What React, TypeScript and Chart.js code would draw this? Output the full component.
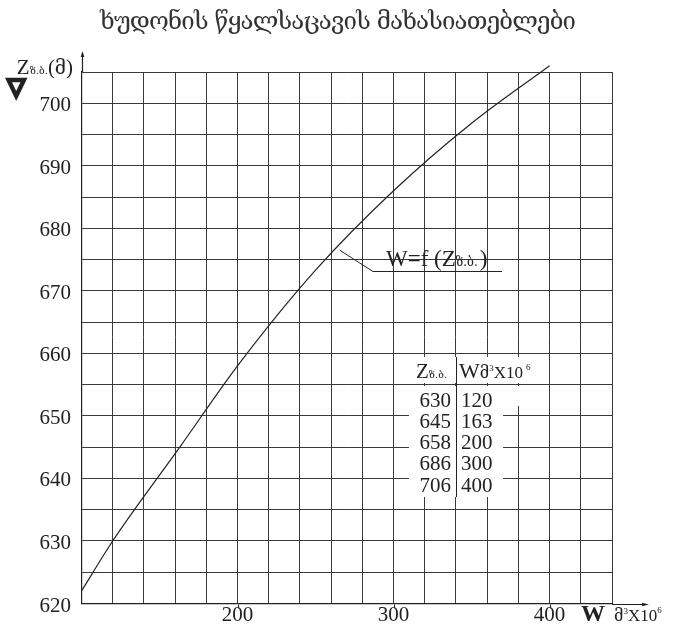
import React, { useEffect, useRef } from 'react';
import { Chart, registerables } from 'chart.js';
Chart.register(...registerables);

const titleText = 'ხუდონის წყალსაცავის მახასიათებლები';
const curveW = [100, 120, 163, 200, 250, 300, 350, 400];
const curveZ = [622, 630, 645, 658, 673.3, 686, 696.8, 706];
const tableZ = [630, 645, 658, 686, 706];
const tableW = [120, 163, 200, 300, 400];
const xTickLabels = [200, 300, 400];
const yTickLabels = [620, 630, 640, 650, 660, 670, 680, 690, 700];
const xMin = 100, xMax = 440, xStep = 20;
const yMin = 620, yMax = 705, yStep = 5;

const SERIF = '"Liberation Serif", "Times New Roman", serif';
const GEO = '"DejaVu Serif", "DejaVu Sans", serif';
const INK = '#222';

type Part = { t: string; f: string; dy?: number; gap?: number };

function drawParts(ctx: CanvasRenderingContext2D, parts: Part[], x: number, y: number, align: 'left' | 'right' = 'left') {
  ctx.save();
  ctx.textBaseline = 'alphabetic';
  ctx.textAlign = 'left';
  let total = 0;
  for (const p of parts) { ctx.font = p.f; total += ctx.measureText(p.t).width + (p.gap || 0); }
  let cx = align === 'right' ? x - total : x;
  for (const p of parts) {
    ctx.font = p.f;
    ctx.fillText(p.t, cx, y + (p.dy || 0));
    cx += ctx.measureText(p.t).width + (p.gap || 0);
  }
  ctx.restore();
  return total;
}

const decorPlugin = {
  id: 'decor',
  afterDraw(chart: any) {
    const ctx: CanvasRenderingContext2D = chart.ctx;
    const xs = chart.scales.x;
    const ys = chart.scales.y;
    const a = chart.chartArea;
    ctx.save();
    ctx.fillStyle = INK;
    ctx.strokeStyle = INK;

    // Title with letter spacing
    ctx.font = `24px ${GEO}`;
    const n = Array.from(titleText).length;
    const w0 = ctx.measureText(titleText).width;
    const ls = (476 - w0) / (n - 1);
    (ctx as any).letterSpacing = `${ls}px`;
    ctx.fillStyle = '#333';
    ctx.textAlign = 'left';
    ctx.textBaseline = 'alphabetic';
    ctx.fillText(titleText, 100, 29);
    (ctx as any).letterSpacing = '0px';
    ctx.fillStyle = INK;

    // Axis arrows
    const x0 = Math.round(a.left) + 0.5;
    const y0 = Math.round(a.bottom) + 0.5;
    ctx.lineWidth = 1.2;
    ctx.beginPath();
    ctx.moveTo(x0, a.top);
    ctx.lineTo(x0, 54);
    ctx.moveTo(a.right, y0);
    ctx.lineTo(645, y0);
    ctx.stroke();
    ctx.beginPath();
    ctx.moveTo(x0, 51); ctx.lineTo(x0 - 1.8, 57); ctx.lineTo(x0 + 1.8, 57); ctx.closePath();
    ctx.fill();
    ctx.beginPath();
    ctx.moveTo(649, y0); ctx.lineTo(642, y0 - 1.8); ctx.lineTo(642, y0 + 1.8); ctx.closePath();
    ctx.fill();

    // Small ticks under x axis
    ctx.lineWidth = 1;
    for (const v of xTickLabels) {
      const px = Math.round(xs.getPixelForValue(v)) + 0.5;
      ctx.beginPath(); ctx.moveTo(px, y0); ctx.lineTo(px, y0 + 4); ctx.stroke();
    }

    // Tick labels
    ctx.font = `21px ${SERIF}`;
    ctx.textBaseline = 'alphabetic';
    ctx.textAlign = 'center';
    for (const v of xTickLabels) {
      ctx.fillText(String(v), xs.getPixelForValue(v), 621);
    }
    ctx.textAlign = 'right';
    for (const v of yTickLabels) {
      ctx.fillText(String(v), 71, ys.getPixelForValue(v) + 8);
    }

    // X axis unit label
    drawParts(ctx, [
      { t: 'W', f: `bold 24px ${SERIF}` },
    ], 581, 621);
    drawParts(ctx, [
      { t: 'მ', f: `16px ${GEO}` },
      { t: '3', f: `9px ${SERIF}`, dy: -7 },
      { t: 'X', f: `17px ${SERIF}` },
      { t: '10', f: `17px ${SERIF}` },
      { t: '6', f: `9px ${SERIF}`, dy: -8 },
    ], 614, 621);

    // Y axis label
    drawParts(ctx, [
      { t: 'Z', f: `21px ${SERIF}` },
      { t: 'ზ.ბ.', f: `10px ${GEO}`, dy: 0 },
      { t: '(', f: `21px ${SERIF}` },
      { t: 'მ', f: `19px ${GEO}` },
      { t: ')', f: `21px ${SERIF}` },
    ], 73, 74, 'right');

    // Nabla symbol
    ctx.save();
    ctx.lineWidth = 4.4;
    ctx.lineJoin = 'miter';
    ctx.beginPath();
    ctx.moveTo(8.5, 80); ctx.lineTo(24, 80); ctx.lineTo(16.2, 96); ctx.closePath();
    ctx.stroke();
    ctx.restore();

    // Annotation leader
    const lx = xs.getPixelForValue(265.5);
    const ly = ys.getPixelForValue(676.5);
    ctx.lineWidth = 1;
    ctx.beginPath();
    ctx.moveTo(lx, ly);
    ctx.lineTo(373, 271.5);
    ctx.lineTo(502, 271.5);
    ctx.stroke();
    drawParts(ctx, [
      { t: 'W=f (Z', f: `23px ${SERIF}` },
      { t: 'ზ.ბ.', f: `12px ${GEO}`, gap: 2 },
      { t: ')', f: `23px ${SERIF}` },
    ], 386, 266);

    // Table
    ctx.fillStyle = '#fff';
    ctx.fillRect(409, 357, 138, 26);
    ctx.fillRect(409, 386, 138, 20);
    ctx.fillRect(409, 406, 94, 91);
    ctx.fillStyle = INK;
    const sepX = Math.round(xs.getPixelForValue(340)) + 0.5;
    ctx.lineWidth = 1;
    ctx.beginPath();
    ctx.moveTo(sepX, 357); ctx.lineTo(sepX, 497);
    ctx.stroke();
    drawParts(ctx, [
      { t: 'Z', f: `21px ${SERIF}` },
      { t: 'ზ.ბ.', f: `10px ${GEO}` },
    ], 416, 378);
    drawParts(ctx, [
      { t: 'W', f: `22px ${SERIF}` },
      { t: 'მ', f: `16px ${GEO}` },
      { t: '3', f: `9px ${SERIF}`, dy: -7 },
      { t: 'X', f: `17px ${SERIF}` },
      { t: '10', f: `17px ${SERIF}`, gap: 3 },
      { t: '6', f: `9px ${SERIF}`, dy: -8 },
    ], 459, 378);
    const rowY = [406.5, 428, 449, 470, 491.5];
    ctx.font = `21px ${SERIF}`;
    ctx.textBaseline = 'alphabetic';
    for (let i = 0; i < tableZ.length; i++) {
      ctx.textAlign = 'right';
      ctx.fillText(String(tableZ[i]), 451, rowY[i]);
      ctx.textAlign = 'left';
      ctx.fillText(String(tableW[i]), 461, rowY[i]);
    }
    ctx.restore();
  },
};

export default function App() {
  const ref = useRef<HTMLCanvasElement>(null);
  useEffect(() => {
    if (!ref.current) return;
    const chart = new Chart(ref.current, {
      type: 'line',
      data: {
        datasets: [
          {
            data: curveW.map((w, i) => ({ x: w, y: curveZ[i] })),
            borderColor: INK,
            borderWidth: 1.2,
            pointRadius: 0,
            cubicInterpolationMode: 'monotone',
            fill: false,
            clip: false,
          },
        ],
      },
      options: {
        responsive: false,
        animation: false,
        devicePixelRatio: 1,
        layout: { padding: { top: 72, right: 65, bottom: 0, left: 0 } },
        plugins: { legend: { display: false }, title: { display: false }, tooltip: { enabled: false } },
        scales: {
          x: {
            type: 'linear',
            min: xMin,
            max: xMax,
            ticks: { stepSize: xStep, display: false },
            grid: { color: '#3a3a3a', lineWidth: 1, drawTicks: false },
            border: { display: true, color: INK, width: 1.2 },
            afterFit: (s: any) => { s.height = 28.5; },
          },
          y: {
            type: 'linear',
            min: yMin,
            max: yMax,
            ticks: { stepSize: yStep, display: false },
            grid: { color: '#3a3a3a', lineWidth: 1, drawTicks: false },
            border: { display: true, color: INK, width: 1.2 },
            afterFit: (s: any) => { s.width = 81.5; },
          },
        },
      } as any,
      plugins: [decorPlugin],
    });
    return () => chart.destroy();
  }, []);
  return (
    <div style={{ position: 'absolute', left: 0, top: 0, width: 677, height: 632, background: '#fff' }}>
      <canvas ref={ref} width={677} height={632} style={{ display: 'block' }} />
    </div>
  );
}
